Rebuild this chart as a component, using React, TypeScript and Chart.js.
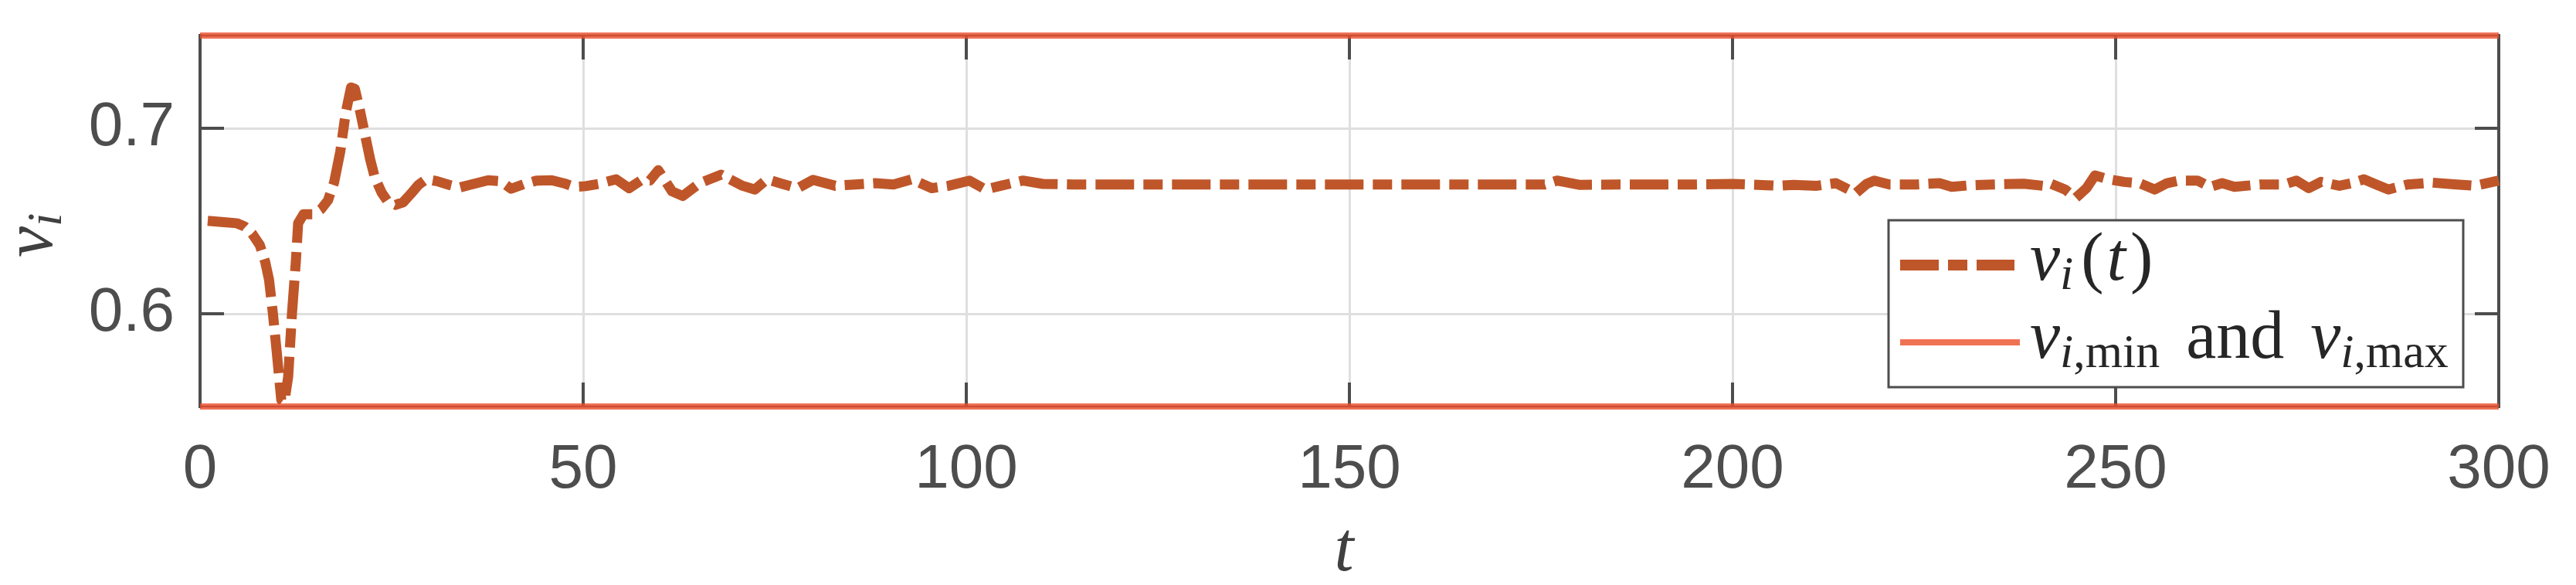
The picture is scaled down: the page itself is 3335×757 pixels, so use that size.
import React, { useEffect, useRef } from "react";
import { Chart, registerables } from "chart.js";

Chart.register(...registerables);

// ---- data ----
const tValues = [
  1, 3.1, 4.8, 5.8, 6.8, 7.8, 8.5, 9, 9.5, 10, 10.6, 11, 11.5, 12, 12.5, 12.8, 13.5, 14.8, 15.8, 16.7,
  17.5, 18.3, 19, 19.7, 20.2, 20.8, 21.5, 22.2, 22.8, 23.7, 24.5, 25.5, 26.5, 27.5, 28.5, 29.5, 30.9,
  32.5, 33.9, 35.2, 37.6, 39.2, 40.6, 42.2, 43.9, 45.9, 47.6, 48.9, 50.3, 52, 54.3, 56, 57.5, 58.7,
  59.8, 61.6, 63, 65.2, 68, 70.8, 72.4, 74, 76, 78, 80, 82.9, 85.5, 88.1, 90.5, 92.9, 95.5, 97.7,
  100.4, 102.5, 104.5, 107.4, 110, 114, 120, 130, 140, 150, 160, 170, 175.5, 177.1, 180, 185, 190,
  195, 200, 204.4, 206, 208, 211, 213.5, 216.1, 217.5, 218.5, 220.5, 224, 227, 228.6, 231, 234, 238,
  240.5, 241.4, 243.4, 244.8, 246.2, 247.3, 249.1, 251.1, 253.1, 255.1, 256.7, 258.3, 260.7, 262.3,
  263.9, 265.5, 268.8, 272, 273.6, 275.2, 276.8, 279.2, 280.8, 282.4, 284, 285.6, 288.1, 291.3,
  294.5, 296.9, 300,
];
const vValues = [
  0.6501, 0.6494, 0.6488, 0.6471, 0.6432, 0.637, 0.628, 0.6184, 0.6004, 0.5797, 0.5535, 0.5523,
  0.566, 0.6004, 0.628, 0.6488, 0.6536, 0.6536, 0.6564, 0.6612, 0.6709, 0.6874, 0.7081, 0.722,
  0.7213, 0.7109, 0.6971, 0.6833, 0.6736, 0.6653, 0.6605, 0.6587, 0.6601, 0.6646, 0.6695, 0.6725,
  0.6715, 0.6695, 0.6681, 0.6695, 0.672, 0.6715, 0.6674, 0.6698, 0.6718, 0.672, 0.6702, 0.6684,
  0.6688, 0.67, 0.6725, 0.6677, 0.6718, 0.6718, 0.6774, 0.666, 0.6635, 0.6704, 0.675, 0.669, 0.667,
  0.6725, 0.67, 0.6677, 0.6722, 0.669, 0.6697, 0.6704, 0.6697, 0.6725, 0.6677, 0.669, 0.6718,
  0.667, 0.669, 0.6718, 0.67, 0.6697, 0.6697, 0.6697, 0.6697, 0.6697, 0.6697, 0.6697, 0.6697,
  0.6718, 0.6695, 0.6697, 0.6697, 0.6697, 0.67, 0.6693, 0.669, 0.6695, 0.669, 0.6704, 0.665, 0.67,
  0.6718, 0.6697, 0.6697, 0.6704, 0.6684, 0.6693, 0.6697, 0.6701, 0.669, 0.6704, 0.667, 0.6625,
  0.6677, 0.6746, 0.6725, 0.6711, 0.6704, 0.667, 0.6704, 0.6718, 0.6718, 0.6684, 0.6704, 0.6684,
  0.6697, 0.6697, 0.6718, 0.6677, 0.6711, 0.669, 0.6704, 0.6725, 0.6697, 0.667, 0.6697, 0.6707,
  0.6697, 0.669, 0.6718,
];
const boundT = [0, 300];
const vMinValues = [0.55, 0.55];
const vMaxValues = [0.75, 0.75];
const xTicks = [0, 50, 100, 150, 200, 250, 300];
const yTicks = [0.6, 0.7];
const xRange = [0, 300];
const yRange = [0.55, 0.75];

// ---- layout / style ----
const W = 3335;
const H = 757;
const AREA = { left: 259, right: 3235, top: 46, bottom: 526 };
const AXIS_COLOR = "#4d4d4d";
const GRID_COLOR = "#dfdfdf";
const CURVE_COLOR = "#bf5629";
const BOUND_COLOR = "rgba(236,79,44,0.8)";
const BOUND_LEGEND = "#f07254";
const TEXT_COLOR = "#262626";
const SERIF = '"Liberation Serif", "Times New Roman", serif';
const SANS = '"Liberation Sans", Arial, sans-serif';
const DASH = [50, 12, 25, 12];

type Piece = { text: string; italic?: boolean; size: number; dy?: number; gap?: number };

function drawPieces(ctx: CanvasRenderingContext2D, x: number, y: number, pieces: Piece[]) {
  let cx = x;
  for (const p of pieces) {
    cx += p.gap || 0;
    ctx.font = `${p.italic ? "italic " : ""}${p.size}px ${SERIF}`;
    ctx.fillText(p.text, cx, y + (p.dy || 0));
    cx += ctx.measureText(p.text).width;
  }
}

const boxPlugin = {
  id: "matlabBox",
  beforeDatasetsDraw(chart: any) {
    const { ctx, chartArea: a, scales } = chart;
    ctx.save();
    ctx.strokeStyle = AXIS_COLOR;
    ctx.lineCap = "butt";
    const TL = 31;
    ctx.lineWidth = 4;
    ctx.beginPath();
    xTicks.forEach((v) => {
      const x = scales.x.getPixelForValue(v);
      ctx.moveTo(x, a.bottom);
      ctx.lineTo(x, a.bottom - TL);
      ctx.moveTo(x, a.top);
      ctx.lineTo(x, a.top + TL);
    });
    yTicks.forEach((v) => {
      const y = scales.y.getPixelForValue(v);
      ctx.moveTo(a.left, y);
      ctx.lineTo(a.left + TL, y);
      ctx.moveTo(a.right, y);
      ctx.lineTo(a.right - TL, y);
    });
    // left and right axis lines
    ctx.moveTo(a.left, a.top - 2);
    ctx.lineTo(a.left, a.bottom + 2);
    ctx.moveTo(a.right, a.top - 2);
    ctx.lineTo(a.right, a.bottom + 2);
    ctx.stroke();
    // top and bottom axis lines (mostly hidden under bound lines)
    ctx.lineWidth = 2.5;
    ctx.beginPath();
    ctx.moveTo(a.left, a.top);
    ctx.lineTo(a.right, a.top);
    ctx.moveTo(a.left, a.bottom);
    ctx.lineTo(a.right, a.bottom);
    ctx.stroke();
    ctx.restore();
  },
  afterDraw(chart: any) {
    const { ctx } = chart;
    ctx.save();
    // legend box
    const L = { left: 2445, top: 285, right: 3189, bottom: 501 };
    ctx.fillStyle = "#ffffff";
    ctx.fillRect(L.left, L.top, L.right - L.left, L.bottom - L.top);
    ctx.strokeStyle = AXIS_COLOR;
    ctx.lineWidth = 3;
    ctx.strokeRect(L.left, L.top, L.right - L.left, L.bottom - L.top);
    // samples
    ctx.lineCap = "butt";
    ctx.strokeStyle = CURVE_COLOR;
    ctx.lineWidth = 14;
    ctx.setLineDash(DASH);
    ctx.beginPath();
    ctx.moveTo(2460, 343);
    ctx.lineTo(2608, 343);
    ctx.stroke();
    ctx.setLineDash([]);
    ctx.strokeStyle = BOUND_LEGEND;
    ctx.lineWidth = 8;
    ctx.beginPath();
    ctx.moveTo(2460, 443);
    ctx.lineTo(2615, 443);
    ctx.stroke();
    // legend text
    ctx.fillStyle = TEXT_COLOR;
    ctx.textAlign = "left";
    ctx.textBaseline = "alphabetic";
    drawPieces(ctx, 2628, 362, [
      { text: "v", italic: true, size: 88 },
      { text: "i", italic: true, size: 62, dy: 12 },
      { text: "(", size: 88, gap: 10 },
      { text: "t", italic: true, size: 88, gap: 4 },
      { text: ")", size: 88, gap: 6 },
    ]);
    drawPieces(ctx, 2628, 463, [
      { text: "v", italic: true, size: 88 },
      { text: "i", italic: true, size: 62, dy: 12 },
      { text: ",", size: 62, dy: 12 },
      { text: "min", size: 62, dy: 12 },
      { text: "and", size: 88, gap: 34 },
      { text: "v", italic: true, size: 88, gap: 34 },
      { text: "i", italic: true, size: 62, dy: 12 },
      { text: ",", size: 62, dy: 12 },
      { text: "max", size: 62, dy: 12 },
    ]);
    // axis titles
    ctx.fillStyle = "#404040";
    ctx.font = `italic 90px ${SERIF}`;
    ctx.textAlign = "center";
    ctx.fillText("t", 1740, 738);
    ctx.textAlign = "left";
    ctx.translate(67, 333);
    ctx.rotate(-Math.PI / 2);
    drawPieces(ctx, 0, 0, [
      { text: "v", italic: true, size: 90 },
      { text: "i", italic: true, size: 63, dy: 12 },
    ]);
    ctx.restore();
  },
};

export default function App() {
  const ref = useRef<HTMLCanvasElement>(null);
  useEffect(() => {
    if (!ref.current) return;
    const chart = new Chart(ref.current, {
      type: "line",
      data: {
        datasets: [
          {
            label: "v_i(t)",
            data: tValues.map((t, i) => ({ x: t, y: vValues[i] })),
            borderColor: CURVE_COLOR,
            borderWidth: 13,
            borderDash: DASH,
            borderCapStyle: "butt",
            borderJoinStyle: "round",
            pointRadius: 0,
            tension: 0,
            fill: false,
            clip: false,
            order: 2,
          },
          {
            label: "v_i,min",
            data: boundT.map((t, i) => ({ x: t, y: vMinValues[i] })),
            borderColor: BOUND_COLOR,
            borderWidth: 8,
            borderCapStyle: "butt",
            pointRadius: 0,
            fill: false,
            clip: false,
            order: 1,
          },
          {
            label: "v_i,max",
            data: boundT.map((t, i) => ({ x: t, y: vMaxValues[i] })),
            borderColor: BOUND_COLOR,
            borderWidth: 8,
            borderCapStyle: "butt",
            pointRadius: 0,
            fill: false,
            clip: false,
            order: 1,
          },
        ],
      },
      options: {
        responsive: false,
        animation: false,
        devicePixelRatio: 1,
        layout: { padding: { left: 0, top: AREA.top, right: W - AREA.right, bottom: 0 } },
        plugins: { legend: { display: false }, tooltip: { enabled: false } },
        scales: {
          x: {
            type: "linear",
            min: xRange[0],
            max: xRange[1],
            afterBuildTicks: (s: any) => {
              s.ticks = xTicks.map((v) => ({ value: v }));
            },
            afterFit: (s: any) => {
              s.height = H - AREA.bottom;
              s.paddingLeft = 0;
              s.paddingRight = 0;
              s.paddingTop = 0;
              s.paddingBottom = 0;
            },
            grid: { color: GRID_COLOR, lineWidth: 3, drawTicks: false },
            border: { display: false },
            ticks: {
              padding: 43,
              color: AXIS_COLOR,
              maxRotation: 0,
              autoSkip: false,
              font: { family: SANS, size: 80, lineHeight: 1 },
            },
          },
          y: {
            type: "linear",
            min: yRange[0],
            max: yRange[1],
            afterBuildTicks: (s: any) => {
              s.ticks = yTicks.map((v) => ({ value: v }));
            },
            afterFit: (s: any) => {
              s.width = AREA.left;
              s.paddingLeft = 0;
              s.paddingRight = 0;
              s.paddingTop = 0;
              s.paddingBottom = 0;
            },
            grid: { color: GRID_COLOR, lineWidth: 3, drawTicks: false },
            border: { display: false },
            ticks: {
              padding: 33,
              color: AXIS_COLOR,
              font: { family: SANS, size: 80, lineHeight: 1 },
            },
          },
        },
      },
      plugins: [boxPlugin],
    } as any);
    return () => chart.destroy();
  }, []);
  return (
    <div style={{ position: "fixed", left: 0, top: 0, width: W, height: H, background: "#fff" }}>
      <canvas ref={ref} width={W} height={H} style={{ width: W, height: H, display: "block" }} />
    </div>
  );
}
